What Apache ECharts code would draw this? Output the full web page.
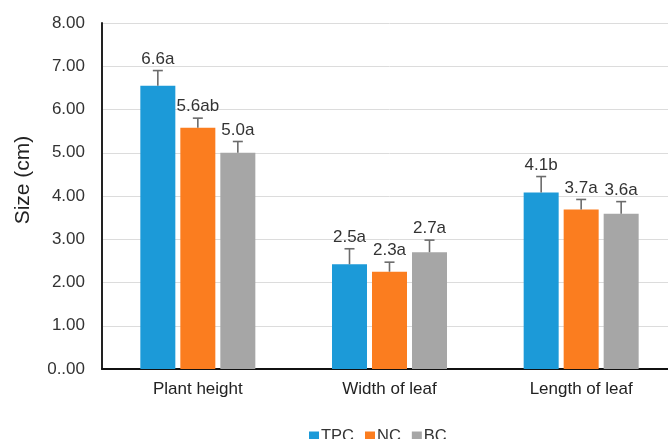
<!DOCTYPE html>
<html>
<head>
<meta charset="utf-8">
<script src="https://cdn.jsdelivr.net/npm/echarts@6/dist/echarts.min.js"></script>
<style>
  html, body { margin: 0; padding: 0; background: #fff; overflow: hidden; }
  /* slightly wider than the window: the plot runs off the right edge */
  #chart { width: 677px; height: 439px; }
</style>
</head>
<body>
<div id="chart"></div>
<script>
// data
const categories = ["Plant height", "Width of leaf", "Length of leaf"];
const seriesNames = ["TPC", "NC", "BC"];
const tpc = [6.55, 2.42, 4.08];
const nc = [5.58, 2.25, 3.69];
const bc = [5.0, 2.7, 3.59];
const tpcErr = [6.9, 2.78, 4.45];
const ncErr = [5.8, 2.47, 3.92];
const bcErr = [5.26, 2.98, 3.87];
const tpcLabels = ["6.6a", "2.5a", "4.1b"];
const ncLabels = ["5.6ab", "2.3a", "3.7a"];
const bcLabels = ["5.0a", "2.7a", "3.6a"];
const yTicks = ["0..00", "1.00", "2.00", "3.00", "4.00", "5.00", "6.00", "7.00", "8.00"];

const colors = ["#1c9ad8", "#fb7d1f", "#a6a6a6"];
const FONT = "Liberation Sans, Arial, sans-serif";
const BAR_W = 35;
const BAR_GAP = 5;

const values = [tpc, nc, bc];
const errs = [tpcErr, ncErr, bcErr];
const labels = [tpcLabels, ncLabels, bcLabels];

const barSeries = seriesNames.map((name, i) => ({
  name,
  type: "bar",
  data: values[i],
  barWidth: BAR_W,
  barGap: (BAR_GAP / BAR_W * 100) + "%",
  itemStyle: { color: colors[i] },
  z: 2
}));

// error bars (upward only) plus the value/letter labels
const errSeries = seriesNames.map((name, i) => ({
  type: "custom",
  name: name + "-err",
  z: 3,
  silent: true,
  data: categories.map((c, k) => [k, errs[i][k], values[i][k], labels[i][k]]),
  renderItem(params, api) {
    const k = api.value(0);
    const top = api.coord([k, api.value(1)]);
    const base = api.coord([k, api.value(2)]);
    const x = top[0] + (i - 1) * (BAR_W + BAR_GAP);
    const cap = 5;
    const lineStyle = { stroke: "#6b6b6b", lineWidth: 1.6 };
    return {
      type: "group",
      children: [
        { type: "line", shape: { x1: x, y1: base[1], x2: x, y2: top[1] }, style: lineStyle },
        { type: "line", shape: { x1: x - cap, y1: top[1], x2: x + cap, y2: top[1] }, style: lineStyle },
        {
          type: "text",
          style: {
            x: x, y: top[1] - 3,
            text: labels[i][k],
            textAlign: "center",
            textVerticalAlign: "bottom",
            font: "17px " + FONT,
            fill: "#333"
          }
        }
      ]
    };
  }
}));

const chart = echarts.init(document.getElementById("chart"), null, { renderer: "canvas" });
chart.setOption({
  animation: false,
  textStyle: { fontFamily: FONT },
  grid: { left: 102, right: 0, top: 23, bottom: 70 },
  graphic: [{
    type: "text",
    x: 23,
    y: 180,
    rotation: Math.PI / 2,
    style: {
      text: "Size (cm)",
      font: "21px " + FONT,
      fill: "#222",
      textAlign: "center",
      textVerticalAlign: "middle"
    }
  }],
  legend: {
    data: seriesNames,
    left: 304,
    top: 423,
    icon: "rect",
    itemWidth: 10,
    itemHeight: 10,
    itemGap: 11,
    textStyle: { fontSize: 16.5, color: "#333", fontFamily: FONT, padding: [0, 0, 0, -3] }
  },
  xAxis: {
    type: "category",
    data: categories,
    axisTick: { show: false },
    axisLine: { lineStyle: { color: "#111", width: 2 } },
    axisLabel: { fontSize: 17, color: "#222", margin: 12 }
  },
  yAxis: {
    type: "value",
    min: 0,
    max: 8,
    interval: 1,
    axisLine: { show: true, lineStyle: { color: "#222", width: 2 } },
    axisTick: { show: false },
    axisLabel: {
      fontSize: 17,
      color: "#333",
      margin: 17,
      formatter: (v) => yTicks[Math.round(v)]
    },
    splitLine: { lineStyle: { color: "#dcdcdc", width: 1 } }
  },
  series: barSeries.concat(errSeries)
});
</script>
</body>
</html>
